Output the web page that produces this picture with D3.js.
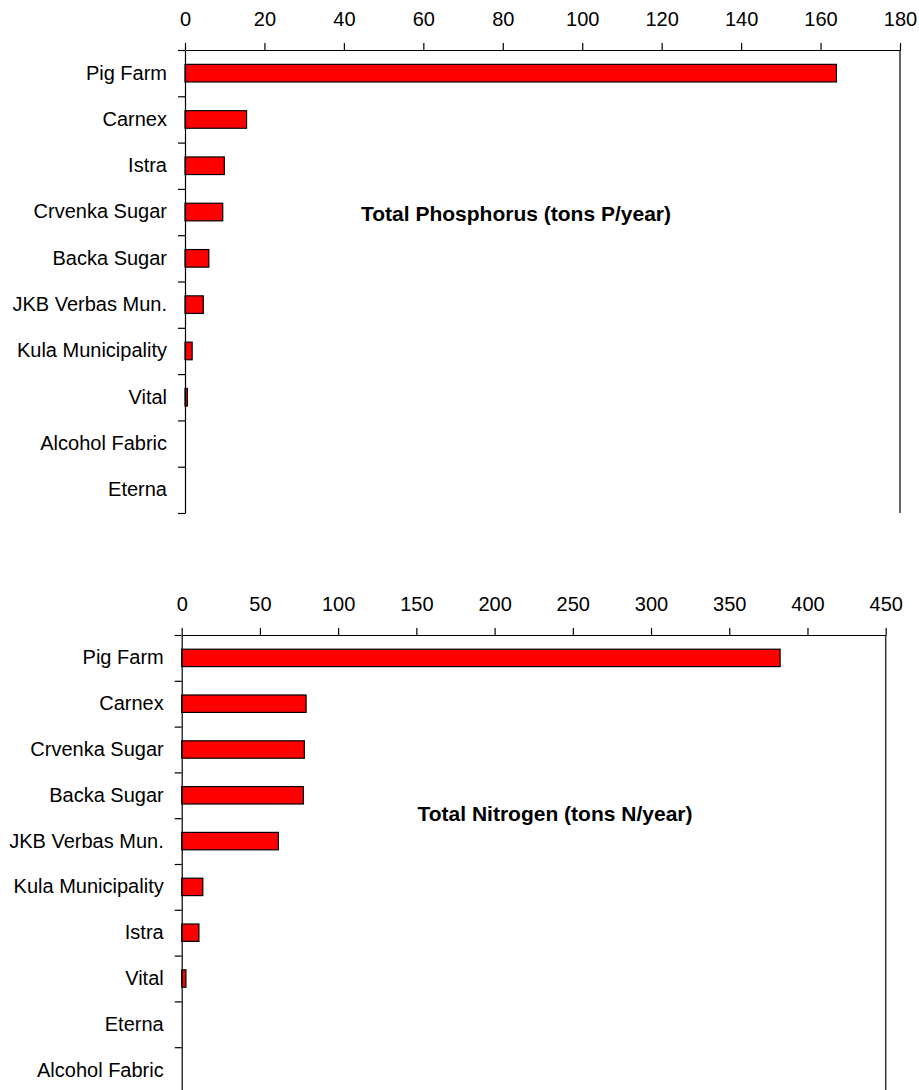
<!DOCTYPE html>
<html>
<head>
<meta charset="utf-8">
<script src="https://cdn.jsdelivr.net/npm/d3@7"></script>
<style>
  html, body { margin: 0; padding: 0; background: #ffffff; }
  svg { display: block; }
  text { font-family: "Liberation Sans", Arial, sans-serif; fill: #000; }
</style>
</head>
<body>
<svg id="chart" width="919" height="1090"></svg>
<script>
// ---- Data ----
const phosCategories = ["Pig Farm", "Carnex", "Istra", "Crvenka Sugar", "Backa Sugar",
  "JKB Verbas Mun.", "Kula Municipality", "Vital", "Alcohol Fabric", "Eterna"];
const phosValues = [164, 15.5, 9.9, 9.5, 6.0, 4.6, 1.8, 0.6, 0, 0];
const phosTicks = [0, 20, 40, 60, 80, 100, 120, 140, 160, 180];
const phosTitle = "Total Phosphorus (tons P/year)";

const nitroCategories = ["Pig Farm", "Carnex", "Crvenka Sugar", "Backa Sugar", "JKB Verbas Mun.",
  "Kula Municipality", "Istra", "Vital", "Eterna", "Alcohol Fabric"];
const nitroValues = [382.5, 79.5, 78.4, 77.8, 61.8, 13.5, 11.0, 2.7, 0, 0];
const nitroTicks = [0, 50, 100, 150, 200, 250, 300, 350, 400, 450];
const nitroTitle = "Total Nitrogen (tons N/year)";

const svg = d3.select("#chart");

function drawPanel(cfg) {
  const g = svg.append("g");
  const x = d3.scaleLinear()
    .domain([0, cfg.ticks[cfg.ticks.length - 1]])
    .range([cfg.left, cfg.right]);
  const y = d3.scaleBand()
    .domain(cfg.categories)
    .range([cfg.top, cfg.bottom])
    .padding(0);
  const step = y.step();
  const barH = step * 0.38;

  // Bars
  const data = cfg.categories.map((c, i) => ({ c, v: cfg.values[i] }));
  g.append("g").selectAll("rect")
    .data(data.filter(d => d.v > 0))
    .join("rect")
    .attr("x", x(0))
    .attr("y", d => y(d.c) + (step - barH) / 2)
    .attr("width", d => x(d.v) - x(0))
    .attr("height", barH)
    .attr("fill", "#ff0000")
    .attr("stroke", "#000")
    .attr("stroke-width", 1.2);

  // Right border
  g.append("line")
    .attr("x1", cfg.right).attr("x2", cfg.right)
    .attr("y1", cfg.top).attr("y2", cfg.bottom)
    .attr("stroke", "#333").attr("stroke-width", 1.5);

  // Top value axis
  const xAxis = d3.axisTop(x)
    .tickValues(cfg.ticks)
    .tickSize(7)
    .tickSizeOuter(0)
    .tickPadding(17)
    .tickFormat(d3.format("d"));
  const xg = g.append("g")
    .attr("transform", `translate(0,${cfg.top})`)
    .call(xAxis);
  xg.selectAll("text").attr("font-size", 20).attr("font-family", "Liberation Sans, Arial, sans-serif").attr("fill", "#000");
  xg.selectAll("line, path").attr("stroke", "#000").attr("stroke-width", 1.2);

  // Category boundary ticks
  const idx = d3.scaleLinear().domain([0, cfg.categories.length]).range([cfg.top, cfg.bottom]);
  const bAxis = d3.axisLeft(idx)
    .tickValues(d3.range(cfg.categories.length + 1))
    .tickSize(7)
    .tickSizeOuter(0)
    .tickFormat("");
  const bg = g.append("g")
    .attr("transform", `translate(${cfg.left},0)`)
    .call(bAxis);
  bg.selectAll("line, path").attr("stroke", "#000").attr("stroke-width", 1.2);

  // Category labels
  const cAxis = d3.axisLeft(y).tickSize(0).tickPadding(18);
  const cg = g.append("g")
    .attr("transform", `translate(${cfg.left},0)`)
    .call(cAxis);
  cg.select(".domain").remove();
  cg.selectAll("text").attr("font-size", 20).attr("font-family", "Liberation Sans, Arial, sans-serif").attr("fill", "#000");

  // Title inside the plot
  g.append("text")
    .attr("x", cfg.titleX)
    .attr("y", cfg.titleY)
    .attr("text-anchor", "middle")
    .attr("font-size", 21)
    .attr("font-weight", "bold")
    .text(cfg.title);
}

drawPanel({
  categories: phosCategories, values: phosValues, ticks: phosTicks, title: phosTitle,
  left: 185, right: 900, top: 50, bottom: 513, titleX: 516, titleY: 221
});

drawPanel({
  categories: nitroCategories, values: nitroValues, ticks: nitroTicks, title: nitroTitle,
  left: 181.7, right: 885.7, top: 635, bottom: 1093, titleX: 555, titleY: 821
});
</script>
</body>
</html>
